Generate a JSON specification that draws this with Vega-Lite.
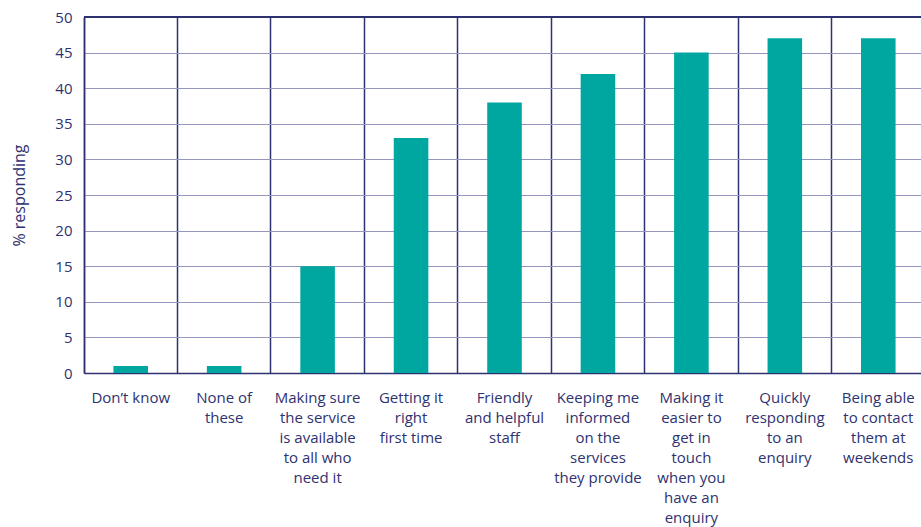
{
  "$schema": "https://vega.github.io/schema/vega-lite/v6.json",
  "autosize": {"type": "none"},
  "width": 837,
  "height": 356,
  "padding": {"left": 84, "top": 17, "right": 0, "bottom": 154},
  "background": "white",
  "config": {
    "view": {"stroke": null},
    "font": "Open Sans"
  },
  "data": {
    "values": [
      {"label": "Don’t know", "value": 1},
      {"label": "None of|these", "value": 1},
      {"label": "Making sure|the service|is available|to all who|need it", "value": 15},
      {"label": "Getting it|right|first time", "value": 33},
      {"label": "Friendly|and helpful|staff", "value": 38},
      {"label": "Keeping me|informed|on the|services|they provide", "value": 42},
      {"label": "Making it|easier to|get in|touch|when you|have an|enquiry", "value": 45},
      {"label": "Quickly|responding|to an|enquiry", "value": 47},
      {"label": "Being able|to contact|them at|weekends", "value": 47}
    ]
  },
  "encoding": {
    "x": {
      "field": "label",
      "type": "nominal",
      "sort": null,
      "scale": {"paddingInner": 0, "paddingOuter": 0, "range": [0, 841]},
      "axis": {
        "title": null,
        "labelAngle": 0,
        "labelExpr": "split(datum.label, '|')",
        "labelFont": "Open Sans",
        "labelFontSize": 15,
        "labelColor": "#2E3270",
        "labelLineHeight": 20,
        "labelPadding": 17,
        "labelBaseline": "top",
        "ticks": false,
        "domainColor": "#2E3270",
        "domainWidth": 1.5,
        "grid": true,
        "bandPosition": 0,
        "gridColor": "#2E3270",
        "gridWidth": 1.5,
        "gridOpacity": 1
      }
    },
    "y": {
      "field": "value",
      "type": "quantitative",
      "scale": {"domain": [0, 50]},
      "axis": {
        "title": "% responding",
        "titleFont": "Open Sans",
        "titleFontSize": 16,
        "titleFontWeight": "normal",
        "titleColor": "#2E3270",
        "titlePadding": 27,
        "values": [0, 5, 10, 15, 20, 25, 30, 35, 40, 45, 50],
        "labelFont": "Open Sans",
        "labelFontSize": 15,
        "labelColor": "#2E3270",
        "labelPadding": 12,
        "ticks": false,
        "domainColor": "#2E3270",
        "domainWidth": 1.5,
        "grid": true,
        "gridColor": "#9496BD",
        "gridWidth": 1
      }
    }
  },
  "layer": [
    {"mark": {"type": "bar", "color": "#00A7A1", "width": {"band": 0.37}}},
    {
      "mark": {"type": "rule", "color": "#2E3270", "strokeWidth": 1.5},
      "encoding": {"y": {"datum": 50}, "x": null}
    }
  ]
}
